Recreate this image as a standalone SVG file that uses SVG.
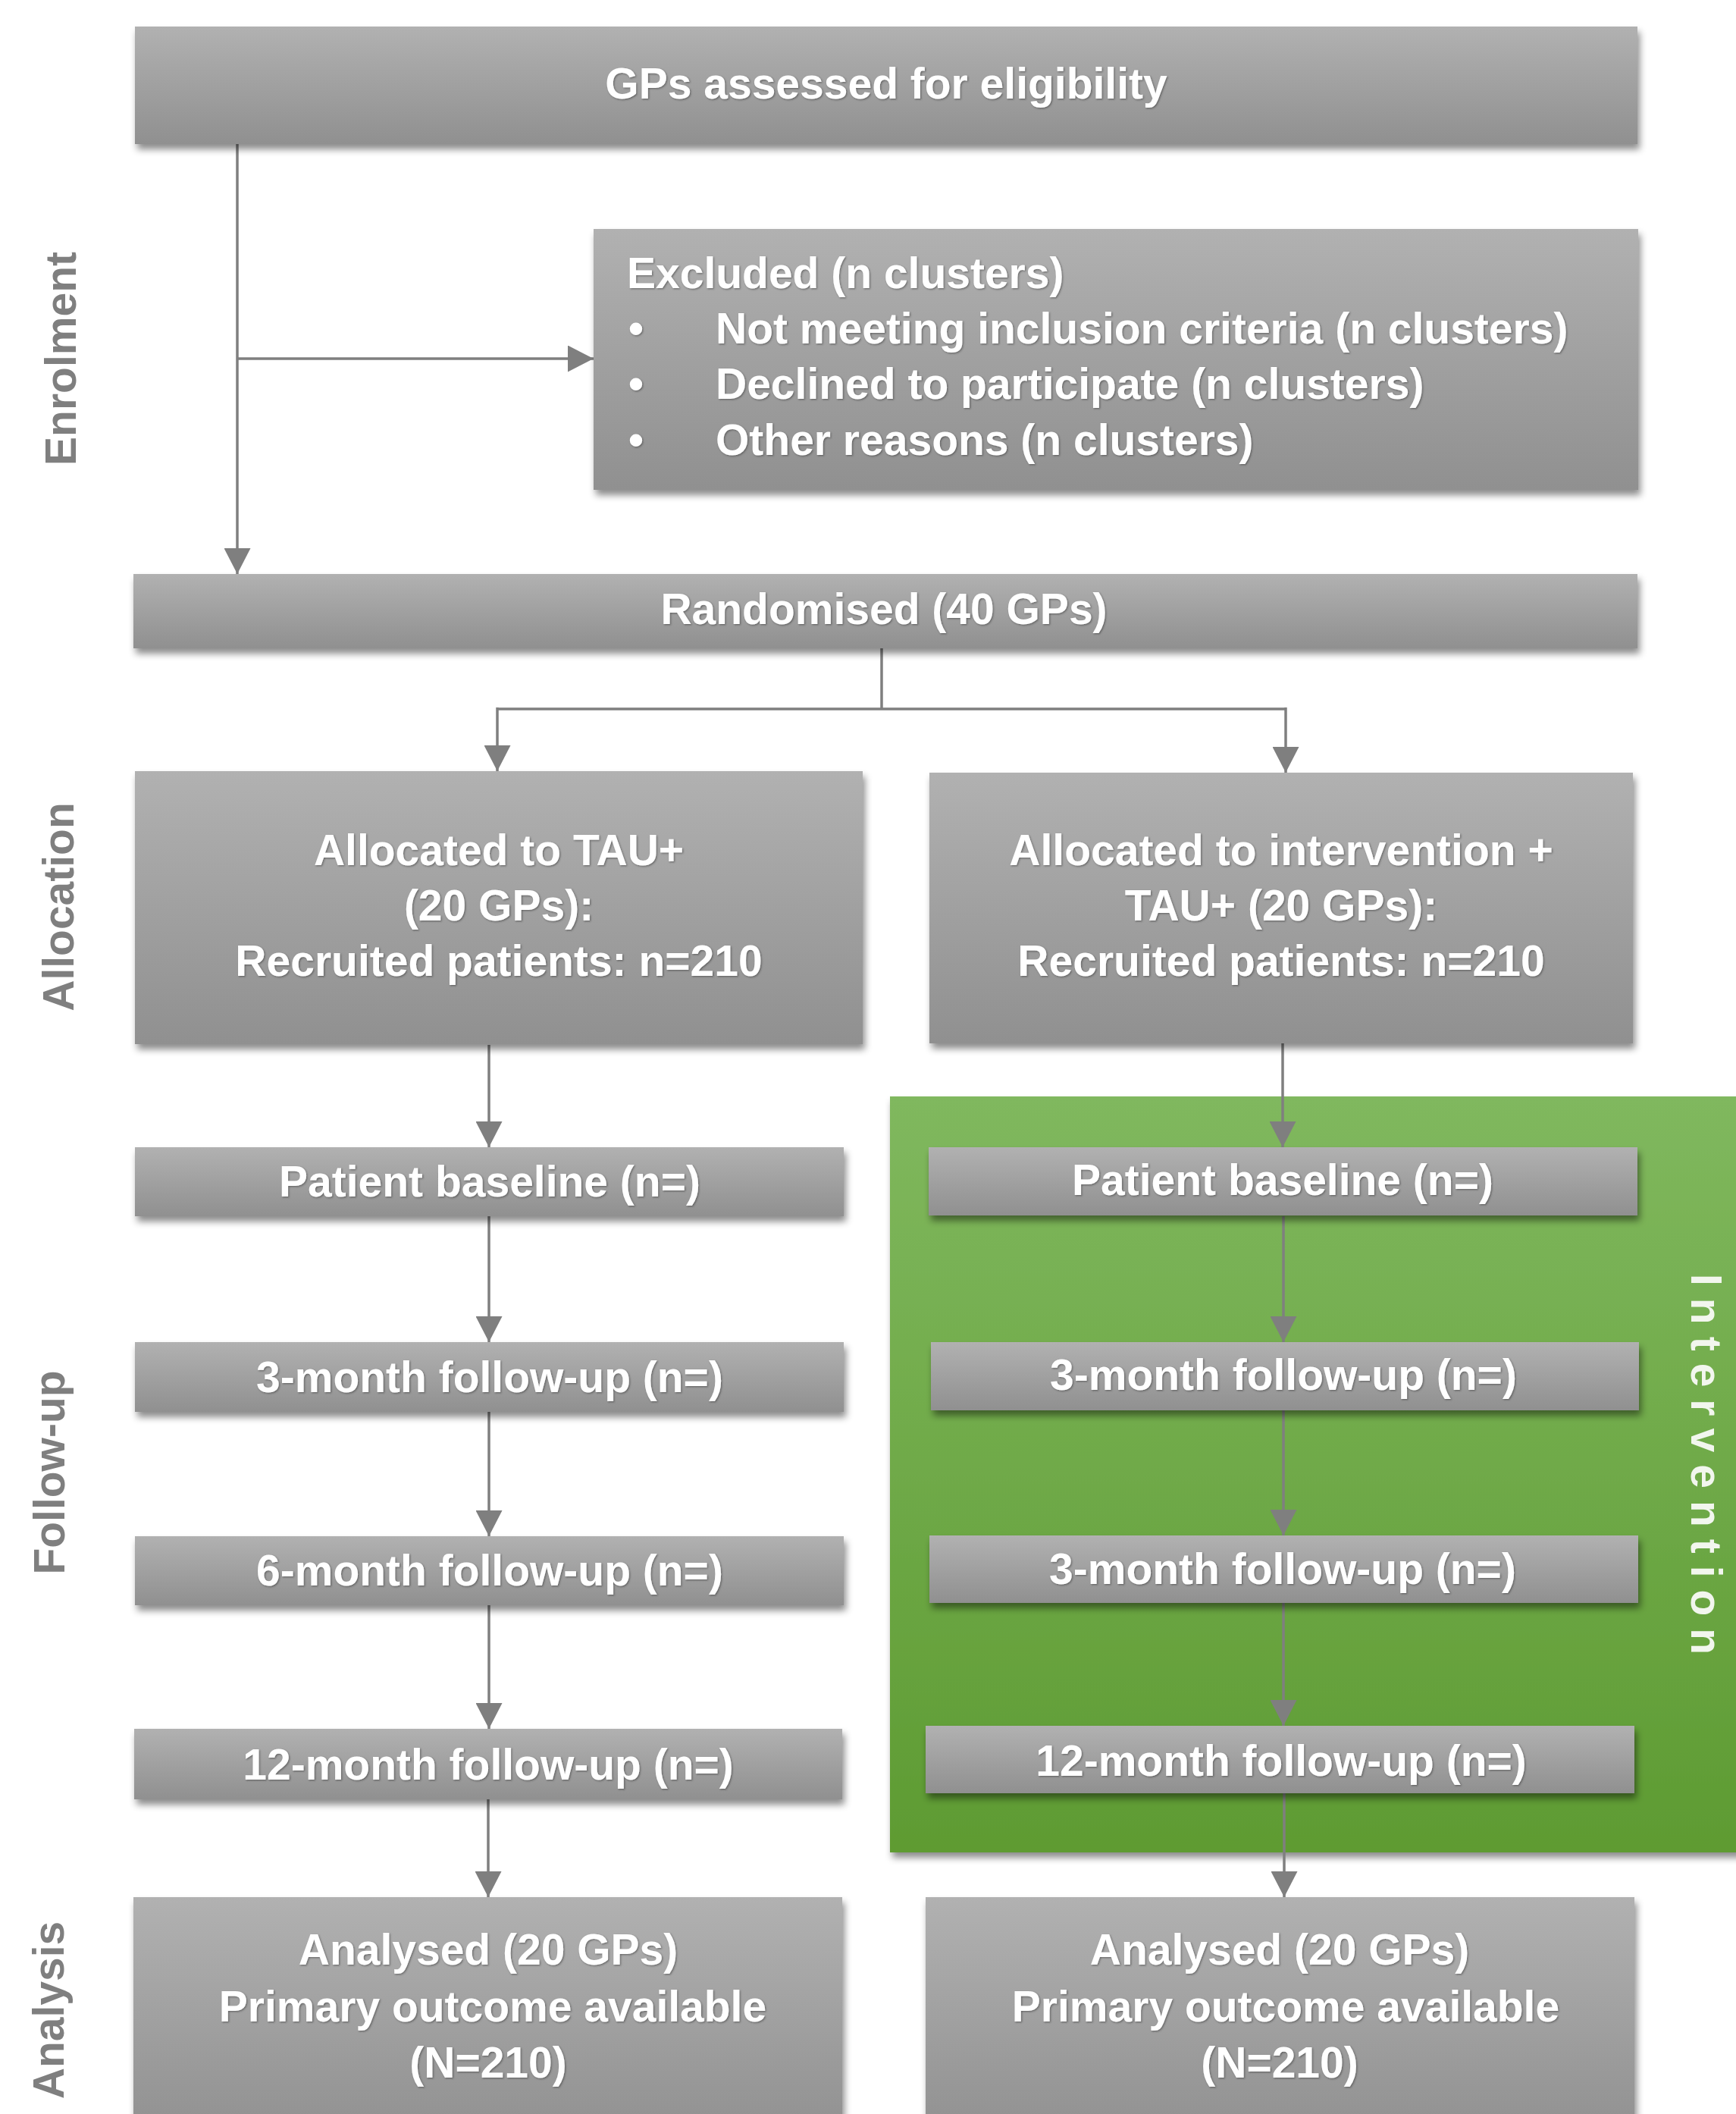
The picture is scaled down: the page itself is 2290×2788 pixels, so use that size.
<svg xmlns="http://www.w3.org/2000/svg" width="2290" height="2788" viewBox="0 0 2290 2788">
<defs>
<linearGradient id="gray" x1="0" y1="0" x2="0" y2="1">
<stop offset="0" stop-color="#b1b1b1"/>
<stop offset="1" stop-color="#909090"/>
</linearGradient>
<linearGradient id="green" x1="0" y1="0" x2="0" y2="1">
<stop offset="0" stop-color="#80b85e"/>
<stop offset="1" stop-color="#5e9b32"/>
</linearGradient>
<filter id="sh" x="-5%" y="-20%" width="112%" height="150%">
<feDropShadow dx="3" dy="7" stdDeviation="5" flood-color="#000" flood-opacity="0.45"/>
</filter>
<filter id="ts" x="-5%" y="-20%" width="110%" height="140%">
<feDropShadow dx="1.2" dy="1.2" stdDeviation="0.8" flood-color="#333" flood-opacity="0.55"/>
</filter>
<marker id="ah" markerUnits="userSpaceOnUse" markerWidth="34" markerHeight="35" refX="34" refY="17.5" orient="auto">
<path d="M0,0 L34,17.5 L0,35 z" fill="#7f7f7f"/>
</marker>
<style>
.box{fill:url(#gray);filter:url(#sh);}
.t{font-family:"Liberation Sans",Arial,sans-serif;font-weight:bold;font-size:57px;fill:#ffffff;text-anchor:middle;filter:url(#ts);}
.tl{font-family:"Liberation Sans",Arial,sans-serif;font-weight:bold;font-size:57px;fill:#ffffff;filter:url(#ts);}
.lab{font-family:"Liberation Sans",Arial,sans-serif;font-weight:bold;font-size:57px;fill:#7f7f7f;text-anchor:middle;}
.iv{font-family:"Liberation Sans",Arial,sans-serif;font-weight:bold;font-size:57px;fill:#f2f6ee;letter-spacing:16px;}
.c{stroke:#7f7f7f;stroke-width:3.5;fill:none;}
.ca{stroke:#7f7f7f;stroke-width:3.5;fill:none;marker-end:url(#ah);}
</style>
</defs>
<rect width="2290" height="2788" fill="#ffffff"/>

<g id="phase-labels">
<text class="lab" transform="translate(100,473) rotate(-90)">Enrolment</text>
<text class="lab" transform="translate(97,1196) rotate(-90)">Allocation</text>
<text class="lab" transform="translate(85,1942) rotate(-90)">Follow-up</text>
<text class="lab" transform="translate(84,2651) rotate(-90)">Analysis</text>
</g>

<g id="intervention-area">
<rect x="1174" y="1446" width="1130" height="997" fill="url(#green)" filter="url(#sh)"/>
<text class="iv" transform="translate(2231,1680) rotate(90)">Intervention</text>
</g>

<g id="connectors">
<line class="c" x1="313" y1="190" x2="313" y2="473"/>
<line class="ca" x1="313" y1="473" x2="313" y2="757"/>
<line class="ca" x1="313" y1="473" x2="783" y2="473"/>
<line class="c" x1="1163" y1="855" x2="1163" y2="935"/>
<line class="c" x1="656" y1="935" x2="1696" y2="935"/>
<line class="ca" x1="656" y1="933" x2="656" y2="1017"/>
<line class="ca" x1="1696" y1="933" x2="1696" y2="1019"/>
<line class="ca" x1="645" y1="1378" x2="645" y2="1513"/>
<line class="ca" x1="645" y1="1604" x2="645" y2="1770"/>
<line class="ca" x1="645" y1="1862" x2="645" y2="2026"/>
<line class="ca" x1="645" y1="2117" x2="645" y2="2280"/>
<line class="ca" x1="644" y1="2373" x2="644" y2="2502"/>
<line class="ca" x1="1692" y1="1375" x2="1692" y2="1513"/>
<line class="ca" x1="1693" y1="1604" x2="1693" y2="1770"/>
<line class="ca" x1="1693" y1="1860" x2="1693" y2="2025"/>
<line class="ca" x1="1693" y1="2114" x2="1693" y2="2276"/>
<line class="ca" x1="1694" y1="2365" x2="1694" y2="2502"/>
</g>

<g id="n-assessed">
<rect class="box" x="178" y="35" width="1982" height="155"/>
<text class="t" x="1169" y="130">GPs assessed for eligibility</text>
</g>

<g id="n-excluded">
<rect class="box" x="783" y="302" width="1378" height="344"/>
<text class="tl" x="827" y="380">Excluded (n clusters)</text>
<text class="tl" x="829" y="453">•</text>
<text class="tl" x="944" y="453">Not meeting inclusion criteria (n clusters)</text>
<text class="tl" x="829" y="526">•</text>
<text class="tl" x="944" y="526">Declined to participate (n clusters)</text>
<text class="tl" x="829" y="600">•</text>
<text class="tl" x="944" y="600">Other reasons (n clusters)</text>
</g>

<g id="n-randomised">
<rect class="box" x="176" y="757" width="1984" height="98"/>
<text class="t" x="1166" y="823">Randomised (40 GPs)</text>
</g>

<g id="n-alloc-tau">
<rect class="box" x="178" y="1017" width="960" height="360"/>
<text class="t" x="658" y="1141">Allocated to TAU+</text>
<text class="t" x="658" y="1214">(20 GPs):</text>
<text class="t" x="658" y="1287">Recruited patients: n=210</text>
</g>

<g id="n-alloc-int">
<rect class="box" x="1226" y="1019" width="928" height="357"/>
<text class="t" x="1690" y="1141">Allocated to intervention +</text>
<text class="t" x="1690" y="1214">TAU+ (20 GPs):</text>
<text class="t" x="1690" y="1287">Recruited patients: n=210</text>
</g>

<g id="n-l-baseline">
<rect class="box" x="178" y="1513" width="935" height="91"/>
<text class="t" x="646" y="1578">Patient baseline (n=)</text>
</g>
<g id="n-l-3m">
<rect class="box" x="178" y="1770" width="935" height="92"/>
<text class="t" x="646" y="1836">3-month follow-up (n=)</text>
</g>
<g id="n-l-6m">
<rect class="box" x="178" y="2026" width="935" height="91"/>
<text class="t" x="646" y="2091">6-month follow-up (n=)</text>
</g>
<g id="n-l-12m">
<rect class="box" x="177" y="2280" width="934" height="93"/>
<text class="t" x="644" y="2347">12-month follow-up (n=)</text>
</g>
<g id="n-l-analysed">
<rect class="box" x="176" y="2502" width="935" height="320"/>
<text class="t" x="644" y="2591">Analysed (20 GPs)</text>
<text class="t" x="650" y="2666">Primary outcome available</text>
<text class="t" x="644" y="2740">(N=210)</text>
</g>

<g id="n-r-baseline">
<rect class="box" x="1225" y="1513" width="935" height="90"/>
<text class="t" x="1692" y="1576">Patient baseline (n=)</text>
</g>
<g id="n-r-3m">
<rect class="box" x="1228" y="1770" width="934" height="90"/>
<text class="t" x="1693" y="1833">3-month follow-up (n=)</text>
</g>
<g id="n-r-3m-b">
<rect class="box" x="1226" y="2025" width="935" height="89"/>
<text class="t" x="1692" y="2089">3-month follow-up (n=)</text>
</g>
<g id="n-r-12m">
<rect class="box" x="1221" y="2276" width="935" height="89"/>
<text class="t" x="1690" y="2342">12-month follow-up (n=)</text>
</g>
<g id="n-r-analysed">
<rect class="box" x="1221" y="2502" width="935" height="320"/>
<text class="t" x="1688" y="2591">Analysed (20 GPs)</text>
<text class="t" x="1696" y="2666">Primary outcome available</text>
<text class="t" x="1688" y="2740">(N=210)</text>
</g>
</svg>
